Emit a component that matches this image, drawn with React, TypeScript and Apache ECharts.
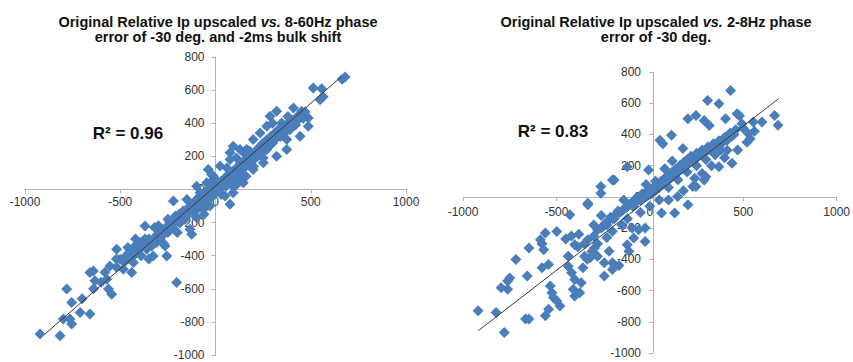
import React, { useEffect, useRef } from 'react';
import * as echarts from 'echarts';

const FONT = "'Liberation Sans', Arial, sans-serif";

const leftTitleLine1 = ['Original Relative Ip upscaled ', 'vs.', ' 8-60Hz phase'];
const leftTitleLine2 = 'error of -30 deg. and -2ms bulk shift';
const rightTitleLine1 = ['Original Relative Ip upscaled ', 'vs.', ' 2-8Hz phase'];
const rightTitleLine2 = 'error of -30 deg.';

const leftR2 = 'R² = 0.96';
const rightR2 = 'R² = 0.83';

const xRange = [-1000, 1000];
const yRange = [-1000, 800];

const leftTrend = [[-895, -873], [662, 682]];
const rightTrend = [[-919, -858], [689, 629]];

const leftPoints: number[][] = [
  [680, 679], [665, 665], [513, 612], [557, 608], [549, 542], [565, 560], [321, 472], [286, 442], [409, 492], [452, 472],
  [435, 422], [487, 432], [487, 381], [444, 321], [374, 301], [347, 402], [269, 381], [234, 341], [198, 301], [164, 241],
  [129, 241], [93, 261], [76, 221], [76, 181], [24, 141], [-11, 80], [-38, 120], [-46, 40], [-99, 20], [129, 60],
  [93, 20], [198, 120], [251, 161], [321, 201], [374, 241], [269, 241], [312, 301], [234, 261],
  [-921, -873], [-816, -884], [-799, -783], [-781, -602], [-755, -683], [-764, -783], [-755, -813], [-711, -743], [-659, -753],
  [-659, -502], [-641, -492], [-633, -552], [-571, -542], [-562, -602], [-545, -633], [-554, -462], [-519, -361], [-501, -422],
  [-484, -482], [-440, -502], [-431, -442], [-414, -341], [-396, -321], [-370, -221], [-361, -361], [-335, -341], [-327, -402],
  [-309, -321], [-274, -261], [-265, -341], [-256, -402], [-239, -241], [-221, -181], [-221, -70], [-204, -562], [-186, -201],
  [-151, -161], [-134, -241], [-125, -271], [-116, -100], [-99, -60], [-81, -20], [-63, -120], [-45, -80], [-29, 40], [6, 0],
  [76, -90], [93, -20], [146, 40],
  [-480, -440], [-460, -420], [-450, -380], [-430, -400], [-410, -380], [-400, -360], [-390, -400], [-380, -340], [-360, -330],
  [-350, -300], [-340, -320], [-320, -290], [-300, -270], [-290, -300], [-280, -240], [-260, -230], [-250, -260], [-240, -200],
  [-220, -210], [-210, -160], [-200, -190], [-190, -150], [-180, -170], [-170, -130], [-160, -180], [-150, -120], [-140, -140],
  [-130, -100], [-120, -130], [-110, -80], [-100, -100], [-90, -50], [-80, -70], [-70, -30], [-60, -50], [-50, -10], [-40, -40],
  [-30, 0], [-20, -20], [-10, 20], [0, -10], [10, 30], [20, 10], [30, 50], [40, 20], [50, 70], [60, 40], [70, 90], [80, 60],
  [90, 110], [100, 80], [110, 130], [120, 100], [130, 150], [140, 120], [150, 170], [160, 140], [170, 190], [180, 160],
  [190, 210], [200, 180], [210, 230], [220, 200], [230, 250], [240, 220], [250, 280], [260, 240], [270, 300], [280, 260],
  [290, 320], [300, 280], [310, 340], [330, 360], [340, 320], [350, 380], [360, 340], [380, 400], [390, 360], [400, 420],
  [420, 390], [440, 450], [460, 430], [470, 470], [380, 440], [300, 400], [150, 220], [180, 230], [110, 190], [60, 130],
  [100, 20], [160, 80], [200, 140], [250, 190], [-60, -150], [-150, -60], [-250, -180], [-320, -230], [-420, -300], [-460, -350],
  [-350, -420], [-270, -330], [-200, -260], [-100, -170], [-30, -100], [0, 60], [-20, 90], [30, -30], [50, -40], [120, 40],
  [-580, -500], [-520, -470], [-600, -560], [-640, -600], [-700, -660], [-520, -420],
  [-300, -220], [-280, -280], [-230, -230], [-210, -250], [-190, -200], [-170, -160], [-140, -110], [-120, -90], [-105, -130],
  [-85, -90], [-65, -80], [-55, -30], [-35, -60], [-15, -40], [-5, 0], [15, -10], [25, 30], [45, 40], [55, 20], [65, 60],
  [85, 90], [105, 100], [125, 130], [145, 150], [165, 170], [185, 190], [205, 210], [225, 230], [245, 240], [265, 270],
  [285, 290], [320, 320], [345, 350], [365, 370], [410, 400], [430, 440], [-370, -300], [-390, -350], [-430, -350], [-470, -400],
];

const rightPoints: number[][] = [
  [432, 682], [309, 618], [370, 597], [204, 501], [247, 522], [291, 490], [318, 458], [405, 501], [467, 533], [480, 520],
  [493, 469], [554, 480], [528, 405], [537, 373], [668, 522], [686, 459], [414, 363], [414, 299], [440, 215], [370, 193],
  [300, 129], [230, 66], [177, 310], [116, 395], [54, 363], [70, 340], [-7, 172], [-121, 193], [-200, 108], [-262, 66],
  [-262, 24], [-332, -40],
  [-919, -730], [-823, -741], [-779, -868], [-796, -582], [-761, -539], [-761, -592], [-750, -520], [-717, -401], [-665, -783],
  [-647, -783], [-656, -507], [-647, -327], [-586, -274], [-568, -338], [-577, -300], [-559, -231], [-498, -221], [-577, -454],
  [-542, -433], [-533, -571], [-524, -614], [-516, -645], [-542, -720], [-559, -762], [-498, -667], [-481, -699], [-428, -115],
  [-332, -51], [-402, -306], [-385, -320], [-437, -380], [-437, -444], [-419, -486], [-402, -529], [-410, -592], [-402, -635],
  [-375, -614], [-367, -550], [-358, -454], [-349, -380], [-320, -390], [-335, -400], [-296, -327], [-244, -422], [-244, -507],
  [-218, -348], [-200, -422], [-200, -465], [-165, -440], [-191, 108], [-121, -306], [-112, -348], [-86, -263], [-95, -200],
  [-60, -210], [-25, -200], [-25, -285], [63, -104], [133, -104], [204, -51], [149, 2], [247, 66], [291, 108],
  [-332, -274], [-300, -250], [-280, -210], [-260, -200], [-240, -170], [-220, -150], [-200, -140], [-180, -110], [-160, -100],
  [-140, -80], [-120, -60], [-100, -40], [-90, -60], [-80, -20], [-70, -30], [-60, 0], [-50, -20], [-40, 20], [-30, 0],
  [-20, 30], [-10, 10], [0, 40], [10, 20], [20, 60], [30, 40], [40, 80], [50, 60], [60, 100], [70, 80], [80, 120], [90, 100],
  [100, 140], [110, 120], [120, 160], [130, 140], [140, 180], [150, 160], [160, 200], [170, 180], [180, 220], [190, 200],
  [200, 240], [210, 220], [220, 260], [240, 250], [250, 280], [270, 270], [280, 300], [300, 290], [310, 320], [330, 310],
  [340, 340], [360, 330], [370, 360], [390, 350], [400, 380], [420, 380], [430, 410], [450, 400], [460, 430], [250, 200],
  [300, 240], [200, 160], [150, 110], [100, 60], [350, 270], [380, 300], [-230, -260], [-150, -180], [-50, -100], [0, -60],
  [50, -20], [-280, -300], [-200, -220], [-120, -140], [30, 100], [-20, 80], [80, 180], [120, 230], [-140, -20], [-260, -120],
  [-300, -180], [-380, -240], [-350, -300], [-310, -350], [-280, -380], [-420, -250], [-450, -270], [100, -20], [180, 40],
  [240, 120], [280, 150], [330, 200], [400, 250], [470, 300], [520, 350], [560, 420], [500, 440], [600, 480],
  [-250, -190], [-230, -180], [-210, -130], [-190, -140], [-170, -90], [-150, -90], [-130, -70], [-110, -50], [-75, -10],
  [-45, 0], [-15, 20], [5, 30], [25, 50], [45, 70], [65, 90], [85, 110], [105, 130], [125, 150], [145, 170], [165, 190],
  [185, 210], [205, 230], [230, 240], [260, 260], [290, 280], [320, 300], [350, 320], [380, 340], [410, 370], [440, 390],
];

const AXIS_COLOR = '#b4b4b4';
const LABEL_COLOR = '#333333';
const MARKER_COLOR = '#4A7EBB';

const grids = [
  { left: 25, top: 57, width: 381, height: 298 },
  { left: 463, top: 72, width: 380, height: 281 },
];

// place the axis lines where the other axis is zero (shifted inward from the grid edge)
function xOffset(g: { top: number; height: number }) {
  const zeroFromTop = g.height * (yRange[1] - 0) / (yRange[1] - yRange[0]);
  return -(g.height - zeroFromTop);
}
function yOffset(g: { width: number }) {
  return -(g.width * (0 - xRange[0]) / (xRange[1] - xRange[0]));
}

const fmt = (v: number) => String(v);

function makeX(gridIndex: number, margin: number) {
  return {
    type: 'value', gridIndex, min: xRange[0], max: xRange[1], interval: 500, position: 'bottom',
    offset: xOffset(grids[gridIndex]),
    splitLine: { show: false },
    axisLine: { show: true, onZero: false, lineStyle: { color: AXIS_COLOR, width: 1 } },
    axisTick: { show: true, length: 4, lineStyle: { color: AXIS_COLOR } },
    axisLabel: { show: true, margin, color: LABEL_COLOR, fontSize: 12, fontFamily: FONT, showMinLabel: true, showMaxLabel: true, formatter: fmt, hideOverlap: false },
  };
}
function makeY(gridIndex: number, margin: number) {
  return {
    type: 'value', gridIndex, min: yRange[0], max: yRange[1], interval: 200, position: 'left',
    offset: yOffset(grids[gridIndex]),
    splitLine: { show: false },
    axisLine: { show: true, onZero: false, lineStyle: { color: AXIS_COLOR, width: 1 } },
    axisTick: { show: true, length: 4, lineStyle: { color: AXIS_COLOR } },
    axisLabel: { show: true, margin, color: LABEL_COLOR, fontSize: 12, fontFamily: FONT, showMinLabel: true, showMaxLabel: true, formatter: fmt, hideOverlap: false },
  };
}

const titleRich = {
  b: { fontSize: 14.5, fontWeight: 'bold', fontFamily: FONT, color: '#111', lineHeight: 15.5 },
  i: { fontSize: 14.5, fontWeight: 'bold', fontStyle: 'italic', fontFamily: FONT, color: '#111', lineHeight: 15.5 },
};

function titleText(l1: string[], l2: string) {
  return `{b|${l1[0]}}{i|${l1[1]}}{b|${l1[2]}}\n{b|${l2}}`;
}

export default function App() {
  const ref = useRef<HTMLDivElement>(null);
  useEffect(() => {
    if (!ref.current) return;
    const chart = echarts.init(ref.current, null, { renderer: 'svg' });
    chart.setOption({
      animation: false,
      backgroundColor: '#ffffff',
      title: [
        { text: titleText(leftTitleLine1, leftTitleLine2), left: 213, top: 9, textAlign: 'center', textStyle: { rich: titleRich, align: 'center' } },
        { text: titleText(rightTitleLine1, rightTitleLine2), left: 651, top: 9, textAlign: 'center', textStyle: { rich: titleRich, align: 'center' } },
      ],
      grid: grids,
      xAxis: [makeX(0, 7), makeX(1, 9)],
      yAxis: [makeY(0, 11), makeY(1, 12)],
      series: [
        { type: 'scatter', xAxisIndex: 0, yAxisIndex: 0, data: leftPoints, symbol: 'diamond', symbolSize: 11, itemStyle: { color: MARKER_COLOR, opacity: 1 }, z: 2 },
        { type: 'line', xAxisIndex: 0, yAxisIndex: 0, data: leftTrend, showSymbol: false, symbol: 'none', lineStyle: { color: '#3a3a3a', width: 1 }, z: 3 },
        { type: 'scatter', xAxisIndex: 1, yAxisIndex: 1, data: rightPoints, symbol: 'diamond', symbolSize: 11, itemStyle: { color: MARKER_COLOR, opacity: 1 }, z: 2 },
        { type: 'line', xAxisIndex: 1, yAxisIndex: 1, data: rightTrend, showSymbol: false, symbol: 'none', lineStyle: { color: '#3a3a3a', width: 1 }, z: 3 },
      ],
      graphic: [
        { type: 'text', x: 128, y: 133, style: { text: leftR2, fontSize: 17, fontWeight: 'bold', fontFamily: FONT, fill: '#111', align: 'center', verticalAlign: 'middle' } },
        { type: 'text', x: 553, y: 131, style: { text: rightR2, fontSize: 17, fontWeight: 'bold', fontFamily: FONT, fill: '#111', align: 'center', verticalAlign: 'middle' } },
      ],
    });
    return () => chart.dispose();
  }, []);
  return <div ref={ref} style={{ position: 'fixed', left: 0, top: 0, width: 853, height: 362 }} />;
}
